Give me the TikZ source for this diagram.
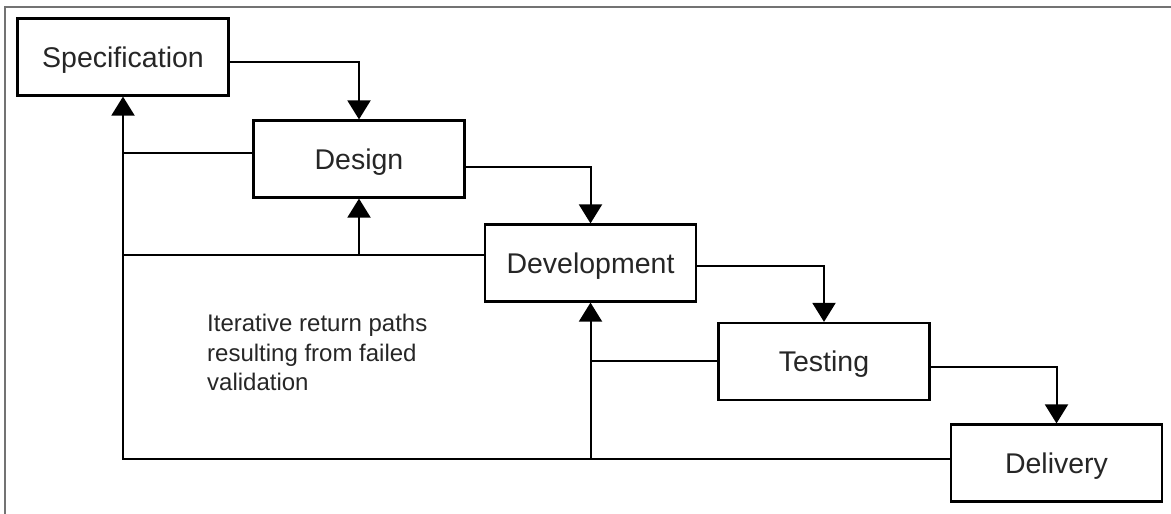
\documentclass[tikz,border=0pt]{standalone}
\usepackage{fontspec}
\setmainfont{Liberation Sans}
\usetikzlibrary{arrows.meta}
\begin{document}
\begin{tikzpicture}[x=1pt,y=-1pt,
  stage/.style={draw, line width=2.2pt, minimum width=211pt, minimum height=77pt,
    inner sep=0pt, text height=20.5pt, text depth=0pt,
    font=\fontsize{28.5}{32}\selectfont, text=black!85},
  flow/.style={line width=2pt, -{Triangle[width=23pt,length=19pt]}},
  back/.style={line width=2pt},
  backarr/.style={line width=2pt, -{Triangle[width=23pt,length=19pt]}},
  note/.style={align=left, anchor=north west, inner sep=0pt,
    font=\fontsize{24}{29.5}\selectfont, text=black!85}]
\useasboundingbox (0,0) rectangle (1171,514);
% frame (cropped)
\coordinate (ftl) at (5,7);
\coordinate (ftr) at (1171,7);
\coordinate (fbl) at (5,514);
\draw[line width=2pt, black!55] (fbl) -- (ftl) -- (ftr);

\node[stage] (spec) at (123,57) {Specification};
\node[stage] (design) at (359,159) {Design};
\node[stage] (dev) at (590.5,263) {Development};
\node[stage] (test) at (824,361.5) {Testing};
\node[stage] (deliv) at (1056.5,463) {Delivery};

% forward flow
\draw[flow] ([yshift=-5pt]spec.east) -| (design.north);
\draw[flow] ([yshift=-8pt]design.east) -| (dev.north);
\draw[flow] ([yshift=-3pt]dev.east) -| (test.north);
\draw[flow] ([yshift=-5pt]test.east) -| (deliv.north);

% return paths
\coordinate (j1) at ([yshift=4pt]deliv.west -| spec.south);
\coordinate (j2) at ([yshift=4pt]deliv.west -| dev.south);
\coordinate (j3) at ([yshift=8pt]dev.west -| design.south);
\draw[backarr] ([yshift=4pt]deliv.west) -- (j1) -- (spec.south);
\draw[back] ([yshift=6pt]design.west) -- ([yshift=6pt]design.west -| spec.south);
\draw[back] ([yshift=8pt]dev.west) -- ([yshift=8pt]dev.west -| spec.south);
\draw[backarr] (j3) -- (design.south);
\draw[back] ([yshift=1pt]test.west) -- ([yshift=1pt]test.west -| dev.south);
\draw[backarr] (j2) -- (dev.south);

\node[note] (lbl) at (207,314) {Iterative return paths\\resulting from failed\\validation};
\end{tikzpicture}
\end{document}
